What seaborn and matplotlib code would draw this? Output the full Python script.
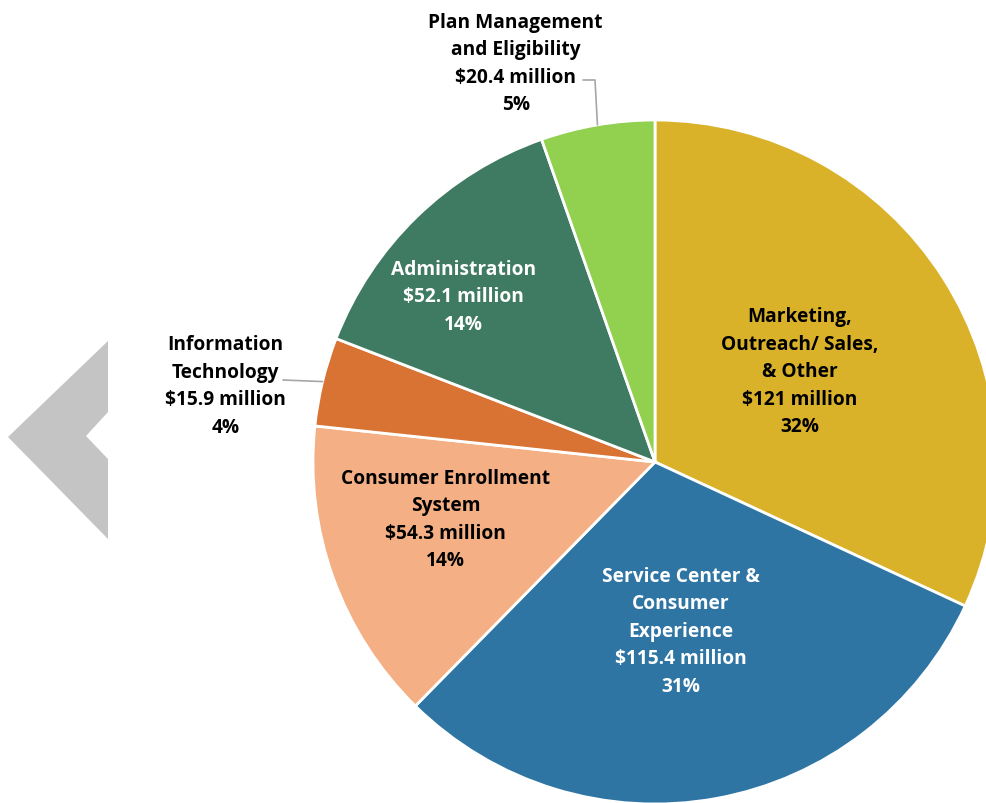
import matplotlib.pyplot as plt
import numpy as np
import seaborn as sns
from matplotlib.patches import Polygon

sns.set_theme(style="white")
plt.rcParams['font.family'] = ['Open Sans', 'DejaVu Sans']

# Data
categories = ["Marketing,\nOutreach/ Sales,\n& Other",
              "Service Center &\nConsumer\nExperience",
              "Consumer Enrollment\nSystem",
              "Information\nTechnology",
              "Administration",
              "Plan Management\nand Eligibility"]
amounts = [121, 115.4, 54.3, 15.9, 52.1, 20.4]
amount_labels = ["$121 million", "$115.4 million", "$54.3 million",
                 "$15.9 million", "$52.1 million", "$20.4 million"]
pct_labels = ["32%", "31%", "14%", "4%", "14%", "5%"]
colors = ["#DAB22A", "#2E75A4", "#F4B084", "#D97333", "#3F7A62", "#92D050"]
text_colors = ["black", "white", "black", "black", "white", "black"]

fig = plt.figure(figsize=(9.86, 8.04), dpi=100)

# gray chevron on the left (figure pixel coords)
W, H = 986, 804
chev = [(108, 342), (8, 438), (108, 540), (108, 460), (86, 437), (108, 413)]
fig.patches.append(Polygon([(x / W, 1 - y / H) for x, y in chev], closed=True,
                           transform=fig.transFigure, facecolor="#C4C4C4",
                           edgecolor="none"))

# pie axes: center (655, 463), radius 342 px
cx, cy, r = 655, 463, 342
ax = fig.add_axes([(cx - r) / W, 1 - (cy + r) / H, 2 * r / W, 2 * r / H])
wedges, _ = ax.pie(amounts, colors=colors, startangle=90, counterclock=False,
                   wedgeprops=dict(edgecolor="white", linewidth=2))
ax.set_xlim(-1, 1)
ax.set_ylim(-1, 1)
ax.set_aspect("equal")
ax.axis("off")
for w in wedges:
    w.set_clip_on(False)

# label placement: (radius, angle offset) relative to wedge middle
label_pos = [(0.5, -0.5), (0.5, -1.5), (0.635, -4.5), (1.28, 0), (0.74, 5), (1.24, 9.5)]
label_nudge = [(0, 0), (0, 0), (0, 0), (-0.012, -0.078), (0, 0), (0.0, -0.005)]
for i, w in enumerate(wedges):
    mid = (w.theta1 + w.theta2) / 2
    rr, off = label_pos[i]
    a = np.deg2rad(mid + off)
    x = rr * np.cos(a) + label_nudge[i][0]
    y = rr * np.sin(a) + label_nudge[i][1]
    txt = categories[i] + "\n" + amount_labels[i] + "\n" + pct_labels[i]
    ax.text(x, y, txt, ha="center", va="center", fontsize=13.8, fontweight="bold",
            color=text_colors[i], linespacing=1.5, clip_on=False)

# leader lines for the small slices
def px(x, y):
    return (x - cx) / r, (cy - y) / r

it_mid = np.deg2rad((wedges[3].theta1 + wedges[3].theta2) / 2)
x0, y0 = px(283, 381)
ax.plot([x0, np.cos(it_mid)], [y0, np.sin(it_mid)], color="#A6A6A6", lw=1.2,
        clip_on=False)
pm_mid = np.deg2rad((wedges[5].theta1 + wedges[5].theta2) / 2)
x1, y1 = px(583, 81)
x2, _ = px(595, 81)
ax.plot([x1, x2, np.cos(pm_mid)], [y1, y1, np.sin(pm_mid)], color="#A6A6A6",
        lw=1.2, clip_on=False)

fig.savefig("out.png", dpi=100, facecolor="white")
